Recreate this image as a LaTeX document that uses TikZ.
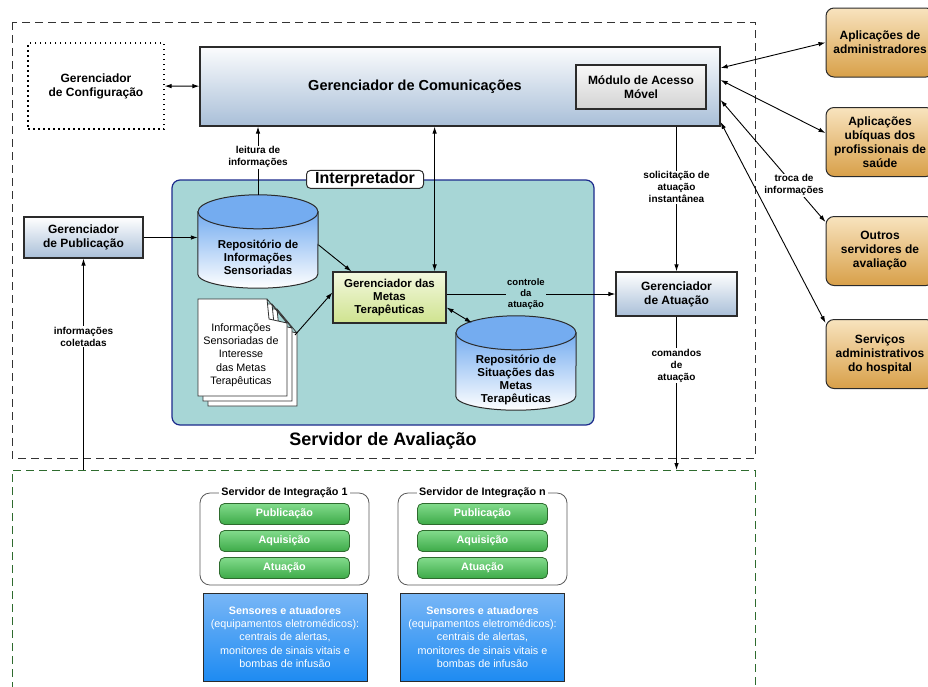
\documentclass[tikz,border=0pt]{standalone}
\usepackage{fontspec}
\setmainfont{Liberation Sans}
\usetikzlibrary{arrows.meta,positioning}

\definecolor{cinzaborda}{HTML}{2B2B2B}
\definecolor{azulclaro}{HTML}{A9BFD8}
\definecolor{azulcil}{HTML}{74ACF0}
\definecolor{verdeinterp}{HTML}{A7D6D6}
\definecolor{azulinterp}{HTML}{1C2A8C}
\definecolor{verdemetasc}{HTML}{F3F8DF}
\definecolor{verdemetas}{HTML}{CFE38F}
\definecolor{verdemod}{HTML}{3DAA48}
\definecolor{verdeclaro}{HTML}{82DB8C}
\definecolor{verdeescuro}{HTML}{2E6B2E}
\definecolor{azulsens}{HTML}{1E8BF2}
\definecolor{azulsensc}{HTML}{78B6F6}
\definecolor{laranja}{HTML}{D8A049}
\definecolor{laranjac}{HTML}{F8E3BE}

\newcommand{\fs}[2]{\fontsize{#1}{#2}\selectfont}

\begin{document}
\begin{tikzpicture}[x=1pt, y=-1pt, >={Latex[length=7pt,width=4.5pt]},
    gerente/.style = {draw=cinzaborda, line width=1.2pt, top color=white, bottom color=azulclaro, align=center, font=\bfseries\fs{12}{14}},
    repositorio/.style = {minimum width=120pt, inner sep=0pt},
    corpo/.style = {draw=cinzaborda, line width=1pt, top color=azulcil, bottom color=white},
    tampa/.style = {draw=cinzaborda, line width=1pt, fill=azulcil},
    textorep/.style = {align=center, font=\bfseries\fs{11.5}{13.3}},
    externo/.style = {draw=cinzaborda, rounded corners=8pt, line width=1pt, top color=laranjac, bottom color=laranja, align=center, minimum width=108pt, minimum height=69pt, font=\bfseries\fs{12}{14}},
    rotulo/.style = {fill=white, align=center, inner sep=1pt, font=\bfseries\fs{10}{12}},
    conexao/.style = {line width=0.9pt},
    modulo/.style = {draw=verdeescuro, rounded corners=5pt, line width=0.8pt, top color=verdeclaro, bottom color=verdemod, minimum width=130pt, minimum height=21pt, text=white, font=\bfseries\fs{10.8}{12}},
    integracao/.style = {draw=gray!70!black, rounded corners=10pt, line width=0.8pt, minimum width=169pt, minimum height=92pt},
    tituloint/.style = {fill=white, inner sep=2pt, font=\bfseries\fs{10.8}{12}},
    sensores/.style = {draw=cinzaborda, line width=0.8pt, top color=azulsensc, bottom color=azulsens, text=white, align=center, minimum width=164pt, minimum height=88pt, font=\fs{10.8}{13.3}}
]
\useasboundingbox (0,0) rectangle (928,686);

% servidor de avaliacao e area de integracao
\draw[gray!40!black, line width=1pt, dash pattern=on 8pt off 5pt] (12,22) rectangle (755,458);
\draw[verdeescuro, line width=1pt, dash pattern=on 8pt off 5pt] (12,690) -- (12,470) -- (755,470) -- (755,690);
\node[font=\bfseries\fs{18}{20}] (aval) at (383,441) {Servidor de Avaliação};

% gerenciadores
\node[draw, line width=1.2pt, dash pattern=on 1.5pt off 3.5pt, minimum width=136pt, minimum height=86pt, align=center, font=\bfseries\fs{12}{14}] (config) at (96,86) {Gerenciador\\de Configuração};
\node[gerente, minimum width=520pt, minimum height=79pt, top color=white!95!azulclaro, font=\bfseries\fs{14.5}{16}] (comm) at (460,86.5) {Gerenciador de Comunicações\hspace*{90pt}};
\node[draw=cinzaborda, line width=1.2pt, top color=gray!5, bottom color=gray!35, minimum width=130pt, minimum height=44pt, align=center, font=\bfseries\fs{12}{14}] (acesso) at (641,87) {Módulo de Acesso\\Móvel};
\node[gerente, minimum width=119pt, minimum height=41pt] (pub) at (83.5,237.5) {Gerenciador\\de Publicação};
\node[gerente, minimum width=121pt, minimum height=44pt] (atua) at (676.5,294) {Gerenciador\\de Atuação};

% interpretador
\node[draw=azulinterp, fill=verdeinterp, line width=1.2pt, rounded corners=8pt, minimum width=422pt, minimum height=245pt] (interp) at (383,302.5) {};
\node[draw=cinzaborda, fill=white, line width=1pt, rounded corners=4pt, inner sep=1.5pt, minimum width=117pt, font=\bfseries\fs{16}{18}] (interplabel) at ([xshift=-18pt]interp.north) {Interpretador};

\node[repositorio, minimum height=93pt] (repoinfo) at (258,241.5) {};
\draw[corpo] ([yshift=-17pt]repoinfo.north west) -- ([yshift=14pt]repoinfo.south west) arc[start angle=180, end angle=360, x radius=60pt, y radius=14pt] -- ([yshift=-17pt]repoinfo.north east) -- cycle;
\draw[tampa] ([yshift=-17pt]repoinfo.north) ellipse[x radius=60pt, y radius=17pt];
\node[textorep] (repoinfotexto) at ([yshift=-16pt]repoinfo.center) {Repositório de\\Informações\\Sensoriadas};

\node[repositorio, minimum height=94pt] (repsit) at (516,363) {};
\draw[corpo] ([yshift=-17pt]repsit.north west) -- ([yshift=14pt]repsit.south west) arc[start angle=180, end angle=360, x radius=60pt, y radius=14pt] -- ([yshift=-17pt]repsit.north east) -- cycle;
\draw[tampa] ([yshift=-17pt]repsit.north) ellipse[x radius=60pt, y radius=17pt];
\node[textorep] (repsittexto) at ([yshift=-17pt]repsit.center) {Repositório de\\Situações das\\Metas\\Terapêuticas};

\node[draw=cinzaborda, line width=1.2pt, top color=verdemetasc, bottom color=verdemetas, minimum width=113pt, minimum height=51pt, align=center, font=\bfseries\fs{11.5}{13}] (metas) at (389.5,297.5) {Gerenciador das\\Metas\\Terapêuticas};

% documentos
\foreach \d in {10,5,0}
  \draw[gray!40!black, fill=white, line width=0.8pt, shift={(198+\d,299+\d)}] (0,0) -- (69,0) -- (89,24) -- (89,97) -- (0,97) -- cycle (69,0) -- (71,20) -- (89,24);
\node[align=center, font=\fs{10.8}{13.3}] (docs) at (241,355) {Informações\\Sensoriadas de\\Interesse\\das Metas\\Terapêuticas};
\coordinate (docsaida) at (295,335);

% aplicacoes externas
\node[externo] (admin) at (880,42.5) {Aplicações de\\administradores};
\node[externo] (ubiq) at (880,142) {Aplicações\\ubíquas dos\\profissionais de\\saúde};
\node[externo] (outros) at (880,251) {Outros\\servidores de\\avaliação};
\node[externo] (servh) at (880,354) {Serviços\\administrativos\\do hospital};

% servidores de integracao
\node[integracao] (integ1) at (284.5,539) {};
\node[tituloint] (titulo1) at (integ1.north) {Servidor de Integração 1};
\node[modulo] (pubm1) at (284.5,514) {Publicação};
\node[modulo] (aqui1) at (284.5,541) {Aquisição};
\node[modulo] (atum1) at (284.5,568) {Atuação};
\node[sensores] (sens1) at (285,637) {\textbf{Sensores e atuadores}\\(equipamentos eletromédicos):\\centrais de alertas,\\monitores de sinais vitais e\\bombas de infusão};
\node[integracao] (integn) at (482.5,539) {};
\node[tituloint] (titulon) at (integn.north) {Servidor de Integração n};
\node[modulo] (pubmn) at (482.5,514) {Publicação};
\node[modulo] (aquin) at (482.5,541) {Aquisição};
\node[modulo] (atumn) at (482.5,568) {Atuação};
\node[sensores] (sensn) at (482.5,637) {\textbf{Sensores e atuadores}\\(equipamentos eletromédicos):\\centrais de alertas,\\monitores de sinais vitais e\\bombas de infusão};

\coordinate (coleta) at (83.5,470);
\coordinate (comandos) at (676.5,470);

% conexoes
\draw[conexao, <->] (config) -- (comm);
\draw[conexao, ->] (repoinfo.north) -- node[rotulo, pos=0.55] {leitura de\\informações} (repoinfo.north |- comm.south);
\draw[conexao, <->] ([xshift=-12pt]metas.north east) -- ([xshift=-12pt]metas.north east |- comm.south);
\draw[conexao, ->] (atua |- comm.south) -- node[rotulo, pos=0.42] {solicitação de\\atuação\\instantânea} (atua.north);
\draw[conexao, ->] (atua.south) -- node[rotulo, pos=0.32] {comandos\\de\\atuação} (comandos);
\draw[conexao, ->] (coleta) -- node[rotulo, pos=0.63] {informações\\coletadas} (pub.south);
\draw[conexao, ->] (pub.east) -- (pub.east -| repoinfo.west);
\draw[conexao, ->] (repoinfo.-3) -- ([xshift=19pt]metas.north west);
\draw[conexao, ->] (docsaida) -- ([yshift=5pt]metas.west);
\draw[conexao, ->] (atua.west -| metas.east) -- node[rotulo, fill=verdeinterp, pos=0.47, font=\bfseries\fs{9.5}{11}] {controle\\da\\atuação} (atua.west);
\draw[conexao, <->] ([yshift=-10pt]metas.east) -- ([xshift=16pt, yshift=-7pt]repsit.north west);
\draw[conexao, <->] ([yshift=18.5pt]comm.east) -- (admin.west);
\draw[conexao, <->] ([yshift=6.5pt]comm.east) -- ([yshift=9pt]ubiq.west);
\draw[conexao, <->] ([yshift=-13.5pt]comm.east) -- node[rotulo, pos=0.7] {troca de\\informações} ([yshift=-6pt]outros.north west);
\draw[conexao, <->] ([yshift=-35.5pt]comm.east) -- ([yshift=-4pt]servh.north west);
\end{tikzpicture}
\end{document}
